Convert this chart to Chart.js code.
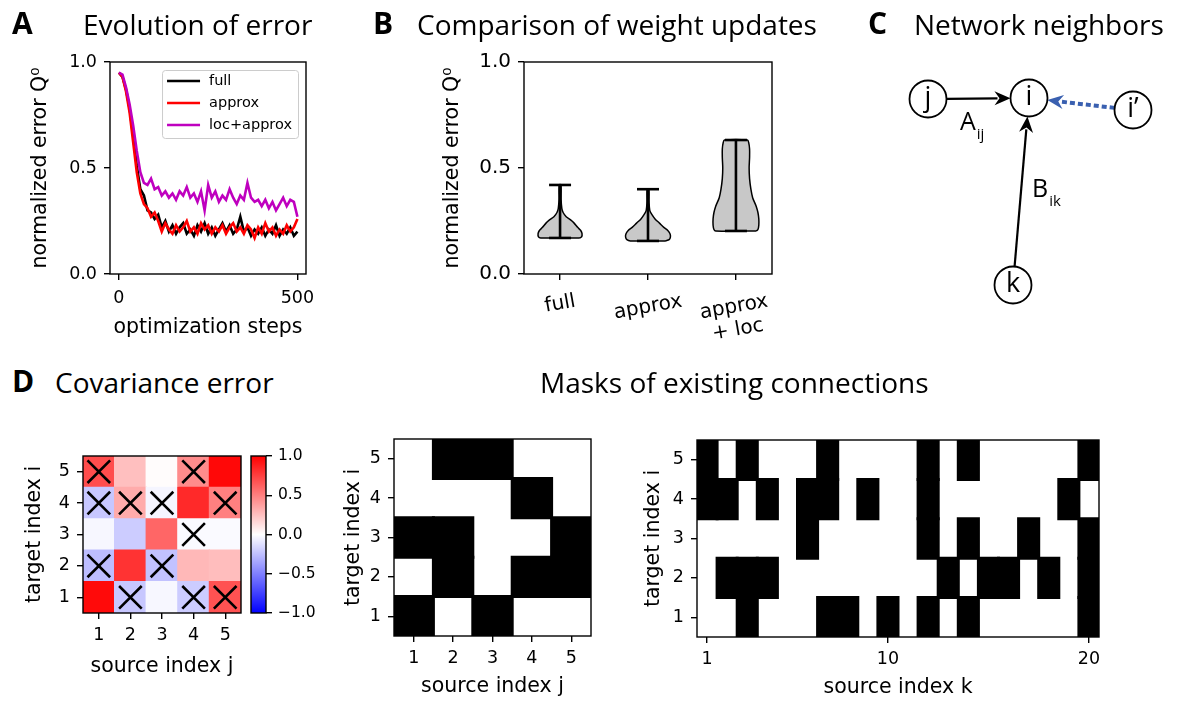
<!DOCTYPE html>
<html lang="en">
<head>
<meta charset="UTF-8">
<title>Figure - erreur et masques</title>
<script src="https://cdn.jsdelivr.net/npm/chart.js"></script>
<style>
  body { margin: 0; background: #fff; }
  #fig { position: relative; width: 1186px; height: 702px; overflow: hidden; font-family: 'Open Sans', sans-serif; color: #000; }
  canvas { position: absolute; }
  .titre { position: absolute; font-size: 28px; line-height: 28px; white-space: nowrap; }
  .lettre { position: absolute; font-size: 30px; line-height: 30px; font-weight: 700; }
</style>
</head>
<body>
<div id="fig">
  <canvas id="graphA" width="330" height="345" style="left:0;top:0"></canvas>
  <canvas id="graphB" width="400" height="380" style="left:400px;top:0"></canvas>
  <canvas id="graphC" width="290" height="260" style="left:880px;top:60px"></canvas>
  <canvas id="graphD" width="245" height="282" style="left:0;top:420px"></canvas>
  <canvas id="barreD" width="80" height="282" style="left:245px;top:420px"></canvas>
  <canvas id="masque1" width="270" height="282" style="left:340px;top:420px"></canvas>
  <canvas id="masque2" width="576" height="282" style="left:610px;top:420px"></canvas>

  <div class="lettre" style="left:12px;top:8px">A</div>
  <div class="titre" style="left:83px;top:10px">Evolution of error</div>
  <div class="lettre" style="left:373px;top:8px">B</div>
  <div class="titre" style="left:417px;top:10px">Comparison of weight updates</div>
  <div class="lettre" style="left:868px;top:8px">C</div>
  <div class="titre" style="left:914px;top:10px">Network neighbors</div>
  <div class="lettre" style="left:12px;top:366px">D</div>
  <div class="titre" style="left:55px;top:368px">Covariance error</div>
  <div class="titre" style="left:540px;top:368px">Masks of existing connections</div>
</div>

<script>
// ---- donnees ----
// A : evolution de l'erreur
const etapes = [0, 10, 20, 30, 40, 50, 60, 70, 80, 90, 100, 110, 120, 130, 140, 150, 160, 170, 180, 190,
  200, 210, 220, 230, 240, 250, 260, 270, 280, 290, 300, 310, 320, 330, 340, 350, 360, 370, 380, 390,
  400, 410, 420, 430, 440, 450, 460, 470, 480, 490, 500];
const erreurFull = [0.95, 0.93, 0.87, 0.78, 0.65, 0.51, 0.40, 0.37, 0.30, 0.29, 0.26, 0.28, 0.22, 0.25, 0.20, 0.23, 0.19, 0.22, 0.24, 0.19,
  0.21, 0.18, 0.23, 0.20, 0.24, 0.19, 0.22, 0.18, 0.21, 0.24, 0.20, 0.23, 0.19, 0.21, 0.27, 0.20, 0.22, 0.18, 0.21, 0.19,
  0.22, 0.18, 0.21, 0.19, 0.23, 0.18, 0.21, 0.19, 0.22, 0.18, 0.20];
const erreurApprox = [0.95, 0.93, 0.86, 0.76, 0.62, 0.48, 0.38, 0.33, 0.31, 0.27, 0.29, 0.25, 0.20, 0.24, 0.21, 0.19, 0.23, 0.20, 0.22, 0.25,
  0.20, 0.22, 0.19, 0.24, 0.21, 0.23, 0.19, 0.22, 0.20, 0.23, 0.19, 0.22, 0.24, 0.20, 0.22, 0.19, 0.23, 0.21, 0.17, 0.22,
  0.19, 0.24, 0.20, 0.22, 0.18, 0.21, 0.19, 0.23, 0.20, 0.22, 0.26];
const erreurLoc = [0.95, 0.94, 0.88, 0.80, 0.70, 0.58, 0.48, 0.43, 0.42, 0.45, 0.40, 0.41, 0.37, 0.39, 0.36, 0.38, 0.35, 0.39, 0.37, 0.41,
  0.36, 0.38, 0.34, 0.39, 0.30, 0.42, 0.36, 0.39, 0.34, 0.37, 0.35, 0.40, 0.36, 0.33, 0.37, 0.35, 0.43, 0.36, 0.34, 0.35,
  0.32, 0.35, 0.31, 0.34, 0.30, 0.33, 0.36, 0.32, 0.35, 0.34, 0.27];
const ticksEtapes = [0, 500];
const ticksErreur = [0, 0.5, 1];

// B : violons
const categoriesB = [['full'], ['approx'], ['approx', '+ loc']];
const positionsB = [1, 2, 3];
const violonNiveaux = [
  [0.17, 0.175, 0.19, 0.205, 0.22, 0.24, 0.255, 0.27, 0.29, 0.31, 0.35, 0.42],
  [0.156, 0.162, 0.175, 0.19, 0.205, 0.22, 0.24, 0.26, 0.28, 0.30, 0.34, 0.40],
  [0.203, 0.21, 0.23, 0.26, 0.29, 0.32, 0.36, 0.40, 0.45, 0.50, 0.55, 0.59, 0.62, 0.632]
];
const violonDemiLargeurs = [
  [0.22, 0.245, 0.25, 0.235, 0.20, 0.16, 0.12, 0.07, 0.035, 0.02, 0.012, 0.01],
  [0.20, 0.24, 0.255, 0.25, 0.225, 0.18, 0.13, 0.08, 0.045, 0.02, 0.012, 0.01],
  [0.23, 0.25, 0.26, 0.26, 0.25, 0.23, 0.19, 0.17, 0.155, 0.15, 0.155, 0.155, 0.145, 0.13]
];

// C : voisins dans le reseau
const noeuds = ['j', 'i', 'i\u2019', 'k'];
const noeudsX = [48, 149, 253, 133];
const noeudsY = [221, 222, 210, 35];
const aretesSource = [0, 3, 2];
const aretesCible = [1, 1, 1];

// D : erreur de covariance (lignes 1..5 de bas en haut, colonnes 1..5)
const indices5 = ['1', '2', '3', '4', '5'];
const covErreur = [
  [0.96, -0.22, -0.03, -0.20, 0.68],
  [-0.26, 0.80, -0.24, 0.28, 0.26],
  [-0.03, -0.20, 0.60, -0.02, -0.02],
  [-0.22, 0.33, -0.04, 0.84, 0.50],
  [0.70, 0.25, 0.01, 0.45, 0.97]
];
const croixLignes = [5, 5, 4, 4, 4, 4, 3, 2, 2, 1, 1, 1];
const croixColonnes = [1, 4, 1, 2, 3, 5, 4, 1, 3, 2, 4, 5];
const ticksBarre = [-1, -0.5, 0, 0.5, 1];

// masques : colonnes noires par ligne (lignes 1..5)
const connexionsA = [[1, 3], [2, 4, 5], [1, 2, 5], [4], [2, 3]];
const indices20 = ['1', '2', '3', '4', '5', '6', '7', '8', '9', '10', '11', '12', '13', '14', '15', '16', '17', '18', '19', '20'];
const connexionsB = [
  [3, 7, 8, 10, 12, 14, 20],
  [2, 3, 4, 13, 15, 16, 18, 20],
  [6, 12, 14, 17, 20],
  [1, 2, 4, 6, 7, 9, 12, 19],
  [1, 3, 7, 12, 14, 20]
];
const ticksMasque2 = ['1', '10', '20'];

// ---- reglages communs ----
Chart.defaults.font.family = "'DejaVu Sans', sans-serif";
Chart.defaults.color = '#000';
Chart.defaults.animation = false;
Chart.defaults.responsive = false;
Chart.defaults.plugins.legend.display = false;
Chart.defaults.plugins.tooltip.enabled = false;

function axe(cfg) {
  const ticks = { color: '#000', font: { size: cfg.police || 17.5 }, padding: cfg.pad == null ? 7 : cfg.pad,
    maxRotation: 0, minRotation: 0, autoSkip: false, display: cfg.etiquettes !== false };
  if (cfg.format) ticks.callback = cfg.format;
  const a = {
    type: cfg.type || 'linear',
    offset: !!cfg.offset,
    border: { display: false },
    grid: { drawOnChartArea: false, tickLength: 6, color: '#000', lineWidth: 1.4, offset: false },
    ticks: ticks,
    title: { display: !!cfg.titre, text: cfg.titre || '', color: '#000', font: { size: 20.5 }, padding: 0 },
    afterBuildTicks: s => { s.ticks = cfg.valeurs.map(v => ({ value: v })); },
    afterFit: s => {
      if (cfg.largeur != null) s.width = cfg.largeur;
      if (cfg.hauteur != null) s.height = cfg.hauteur;
    }
  };
  if (cfg.position) a.position = cfg.position;
  if (cfg.min != null) a.min = cfg.min;
  if (cfg.max != null) a.max = cfg.max;
  return a;
}

const cadre = {
  id: 'cadre',
  afterDatasetsDraw(chart) {
    const a = chart.chartArea, ctx = chart.ctx;
    ctx.save();
    ctx.strokeStyle = '#000';
    ctx.lineWidth = 1.4;
    ctx.strokeRect(a.left, a.top, a.right - a.left, a.bottom - a.top);
    ctx.restore();
  }
};

function couleurBwr(v) {
  const t = (v + 1) / 2;
  let r, g, b;
  if (t < 0.5) { r = 2 * t; g = 2 * t; b = 1; }
  else { r = 1; g = 2 * (1 - t); b = 2 * (1 - t); }
  return 'rgb(' + Math.round(r * 255) + ',' + Math.round(g * 255) + ',' + Math.round(b * 255) + ')';
}

// ---- A ----
const legendeA = {
  id: 'legendeA',
  afterDatasetsDraw(chart) {
    const ctx = chart.ctx, a = chart.chartArea, ds = chart.data.datasets;
    ctx.save();
    ctx.font = "14.5px 'DejaVu Sans'";
    const tw = Math.max(...ds.map(d => ctx.measureText(d.label).width));
    const w = 47 + tw + 6, h = 68;
    const x0 = a.right - 8 - w, y0 = a.top + 8;
    ctx.fillStyle = 'rgba(255,255,255,0.8)';
    ctx.strokeStyle = '#cccccc';
    ctx.lineWidth = 1;
    ctx.beginPath();
    if (ctx.roundRect) ctx.roundRect(x0 + 0.5, y0 + 0.5, w, h, 3); else ctx.rect(x0 + 0.5, y0 + 0.5, w, h);
    ctx.fill();
    ctx.stroke();
    ctx.textBaseline = 'middle';
    ds.forEach((d, i) => {
      const y = y0 + 11 + i * 22;
      ctx.strokeStyle = d.borderColor;
      ctx.lineWidth = 2.6;
      ctx.beginPath();
      ctx.moveTo(x0 + 5, y);
      ctx.lineTo(x0 + 38, y);
      ctx.stroke();
      ctx.fillStyle = '#000';
      ctx.fillText(d.label, x0 + 47, y);
    });
    ctx.restore();
  }
};

function serie(valeurs) { return etapes.map((x, i) => ({ x: x, y: valeurs[i] })); }

new Chart(document.getElementById('graphA'), {
  type: 'line',
  data: {
    datasets: [
      { label: 'full', data: serie(erreurFull), borderColor: '#000000', borderWidth: 2.6, pointRadius: 0, order: 3 },
      { label: 'approx', data: serie(erreurApprox), borderColor: '#ff0000', borderWidth: 2.6, pointRadius: 0, order: 2 },
      { label: 'loc+approx', data: serie(erreurLoc), borderColor: '#bf00bf', borderWidth: 2.6, pointRadius: 0, order: 1 }
    ]
  },
  options: {
    layout: { padding: { left: 28, top: 62, right: 24, bottom: 5 } },
    scales: {
      x: axe({ min: -25, max: 524, valeurs: ticksEtapes, hauteur: 66, pad: 8, titre: 'optimization steps' }),
      y: axe({ min: 0, max: 1, valeurs: ticksErreur, largeur: 82, format: v => v.toFixed(1), titre: 'normalized error Q\u2070' })
    }
  },
  plugins: [cadre, legendeA]
});

// ---- B ----
const etiquettesB = {
  id: 'etiquettesB',
  afterDraw(chart) {
    const ctx = chart.ctx, sx = chart.scales.x, bas = chart.chartArea.bottom;
    const ang = 10 * Math.PI / 180, interligne = 23;
    ctx.save();
    ctx.font = "20px 'DejaVu Sans'";
    ctx.fillStyle = '#000';
    ctx.textAlign = 'center';
    ctx.textBaseline = 'middle';
    positionsB.forEach((p, i) => {
      const lignes = categoriesB[i];
      const w = Math.max(...lignes.map(t => ctx.measureText(t).width));
      const h = lignes.length * interligne;
      const cy = bas + 16 + (w * Math.sin(ang) + h * Math.cos(ang)) / 2;
      ctx.save();
      ctx.translate(sx.getPixelForValue(p), cy);
      ctx.rotate(-ang);
      lignes.forEach((t, k) => ctx.fillText(t, 0, (k - (lignes.length - 1) / 2) * interligne));
      ctx.restore();
    });
    ctx.restore();
  }
};

const datasetsB = [];
positionsB.forEach((p, i) => {
  const niv = violonNiveaux[i], dl = violonDemiLargeurs[i], n = niv.length;
  const contour = niv.map((y, k) => ({ x: p + dl[k], y: y }));
  for (let k = n - 1; k >= 0; k--) contour.push({ x: p - dl[k], y: niv[k] });
  contour.push(contour[0]);
  datasetsB.push({ data: contour, showLine: true, fill: 'shape', tension: 0.3, backgroundColor: '#c8c8c8',
    borderColor: '#000', borderWidth: 1.5, pointRadius: 0, order: 2 });
  const bas = niv[0], haut = niv[n - 1];
  const trait = { showLine: true, borderColor: '#000', borderWidth: 2.6, pointRadius: 0, fill: false, order: 1 };
  datasetsB.push(Object.assign({ data: [{ x: p, y: bas }, { x: p, y: haut }] }, trait));
  datasetsB.push(Object.assign({ data: [{ x: p - 0.125, y: bas }, { x: p + 0.125, y: bas }] }, trait));
  datasetsB.push(Object.assign({ data: [{ x: p - 0.125, y: haut }, { x: p + 0.125, y: haut }] }, trait));
});

new Chart(document.getElementById('graphB'), {
  type: 'scatter',
  data: { datasets: datasetsB },
  options: {
    layout: { padding: { left: 40, top: 62, right: 28, bottom: 10 } },
    scales: {
      x: axe({ min: 0.59, max: 3.41, valeurs: positionsB, hauteur: 96, etiquettes: false }),
      y: axe({ min: 0, max: 1, valeurs: ticksErreur, largeur: 84, police: 20, format: v => v.toFixed(1), titre: 'normalized error Q\u2070' })
    }
  },
  plugins: [cadre, etiquettesB]
});

// ---- C ----
const reseau = {
  id: 'reseau',
  beforeDatasetsDraw(chart) {
    const ctx = chart.ctx, sx = chart.scales.x, sy = chart.scales.y, r = 18.5;
    aretesSource.forEach((s, e) => {
      const c = aretesCible[e];
      const x1 = sx.getPixelForValue(noeudsX[s]), y1 = sy.getPixelForValue(noeudsY[s]);
      const x2 = sx.getPixelForValue(noeudsX[c]), y2 = sy.getPixelForValue(noeudsY[c]);
      const d = Math.hypot(x2 - x1, y2 - y1), ux = (x2 - x1) / d, uy = (y2 - y1) / d;
      const ax = x1 + ux * r, ay = y1 + uy * r, bx = x2 - ux * r, by = y2 - uy * r;
      const pointille = noeuds[s] === 'i\u2019';
      const coul = pointille ? '#3a60b0' : '#000';
      const L = 16, W = 7;
      ctx.save();
      ctx.strokeStyle = coul;
      ctx.fillStyle = coul;
      ctx.lineWidth = pointille ? 4 : 2.2;
      if (pointille) ctx.setLineDash([5, 3]);
      ctx.beginPath();
      ctx.moveTo(ax, ay);
      ctx.lineTo(bx - ux * (L - 3), by - uy * (L - 3));
      ctx.stroke();
      ctx.setLineDash([]);
      ctx.beginPath();
      ctx.moveTo(bx, by);
      ctx.lineTo(bx - ux * L - uy * W, by - uy * L + ux * W);
      ctx.lineTo(bx - ux * (L - 5), by - uy * (L - 5));
      ctx.lineTo(bx - ux * L + uy * W, by - uy * L - ux * W);
      ctx.closePath();
      ctx.fill();
      ctx.restore();
    });
  },
  afterDatasetsDraw(chart) {
    const ctx = chart.ctx, sx = chart.scales.x, sy = chart.scales.y;
    ctx.save();
    ctx.fillStyle = '#000';
    ctx.textAlign = 'center';
    ctx.textBaseline = 'middle';
    ctx.font = "27px 'Open Sans'";
    noeuds.forEach((t, i) => ctx.fillText(t, sx.getPixelForValue(noeudsX[i]), sy.getPixelForValue(noeudsY[i]) - 1));
    // etiquettes des aretes
    ctx.textAlign = 'left';
    ctx.textBaseline = 'alphabetic';
    [['A', 'ij', 80, 190], ['B', 'ik', 152, 123]].forEach(([t, sub, x, y]) => {
      const px = sx.getPixelForValue(x), py = sy.getPixelForValue(y);
      ctx.font = "25px 'Open Sans'";
      ctx.fillText(t, px, py);
      const w = ctx.measureText(t).width;
      ctx.font = "15px 'Open Sans'";
      ctx.fillText(sub, px + w + 1, py + 9);
    });
    ctx.restore();
  }
};

new Chart(document.getElementById('graphC'), {
  type: 'scatter',
  data: {
    datasets: [{ data: noeudsX.map((x, i) => ({ x: x, y: noeudsY[i] })), pointRadius: 18.5,
      pointBackgroundColor: '#fff', pointBorderColor: '#000', pointBorderWidth: 1.8 }]
  },
  options: {
    layout: { padding: 0, autoPadding: false },
    scales: { x: { display: false, min: 0, max: 290 }, y: { display: false, min: 0, max: 260 } }
  },
  plugins: [reseau]
});

// ---- D : carte de chaleur ----
const datasetsD = covErreur.map((ligne, r) => ({
  type: 'bar',
  data: indices5.map(c => ({ x: c, y: [r + 0.5, r + 1.5] })),
  backgroundColor: ligne.map(couleurBwr),
  barPercentage: 1, categoryPercentage: 1, grouped: false, borderWidth: 0, inflateAmount: 0.6, order: 2
}));
datasetsD.push({
  type: 'line',
  data: croixLignes.map((r, k) => ({ x: String(croixColonnes[k]), y: r })),
  showLine: false, pointStyle: 'crossRot', pointRadius: 16, pointBorderColor: '#000', pointBorderWidth: 2.6, order: 1
});

new Chart(document.getElementById('graphD'), {
  type: 'bar',
  data: { labels: indices5, datasets: datasetsD },
  options: {
    layout: { padding: { left: 22, top: 36, right: 4, bottom: 23 }, autoPadding: false },
    scales: {
      x: axe({ type: 'category', offset: true, valeurs: [0, 1, 2, 3, 4], hauteur: 66, pad: 6, titre: 'source index j' }),
      y: axe({ min: 0.5, max: 5.5, valeurs: indices5.map(Number), largeur: 61, titre: 'target index i' })
    }
  },
  plugins: [cadre]
});

new Chart(document.getElementById('barreD'), {
  type: 'bar',
  data: {
    labels: ['cb'],
    datasets: [{
      data: [[ticksBarre[0], ticksBarre[ticksBarre.length - 1]]],
      backgroundColor: c => {
        const a = c.chart.chartArea;
        if (!a) return '#fff';
        const g = c.chart.ctx.createLinearGradient(0, a.bottom, 0, a.top);
        g.addColorStop(0, couleurBwr(-1));
        g.addColorStop(0.5, couleurBwr(0));
        g.addColorStop(1, couleurBwr(1));
        return g;
      },
      barPercentage: 1, categoryPercentage: 1, borderWidth: 0
    }]
  },
  options: {
    layout: { padding: { left: 6, top: 36, right: 0, bottom: 89 } },
    scales: {
      x: { display: false },
      y: axe({ position: 'right', min: -1, max: 1, valeurs: ticksBarre, largeur: 59, police: 15.5, pad: 6,
        format: v => (v < 0 ? '\u2212' : '') + Math.abs(v).toFixed(1) })
    }
  },
  plugins: [cadre]
});

// ---- masques ----
function datasetsMasque(connexions) {
  return connexions.map((cols, r) => ({
    data: cols.map(c => ({ x: String(c), y: [r + 0.5, r + 1.5] })),
    backgroundColor: '#000', barPercentage: 1, categoryPercentage: 1, grouped: false, borderWidth: 0, inflateAmount: 1.5
  }));
}

new Chart(document.getElementById('masque1'), {
  type: 'bar',
  data: { labels: indices5, datasets: datasetsMasque(connexionsA) },
  options: {
    layout: { padding: { left: 1, top: 19, right: 19, bottom: 3 } },
    scales: {
      x: axe({ type: 'category', offset: true, valeurs: [0, 1, 2, 3, 4], hauteur: 63, pad: 6, titre: 'source index j' }),
      y: axe({ min: 0.5, max: 5.5, valeurs: indices5.map(Number), largeur: 53, titre: 'target index i' })
    }
  },
  plugins: [cadre]
});

new Chart(document.getElementById('masque2'), {
  type: 'bar',
  data: { labels: indices20, datasets: datasetsMasque(connexionsB) },
  options: {
    layout: { padding: { left: 31, top: 20, right: 87, bottom: 2 } },
    scales: {
      x: axe({ type: 'category', offset: true, valeurs: ticksMasque2.map(t => indices20.indexOf(t)), hauteur: 63, pad: 6, titre: 'source index k' }),
      y: axe({ min: 0.5, max: 5.5, valeurs: indices5.map(Number), largeur: 56, titre: 'target index i' })
    }
  },
  plugins: [cadre]
});
</script>
</body>
</html>
